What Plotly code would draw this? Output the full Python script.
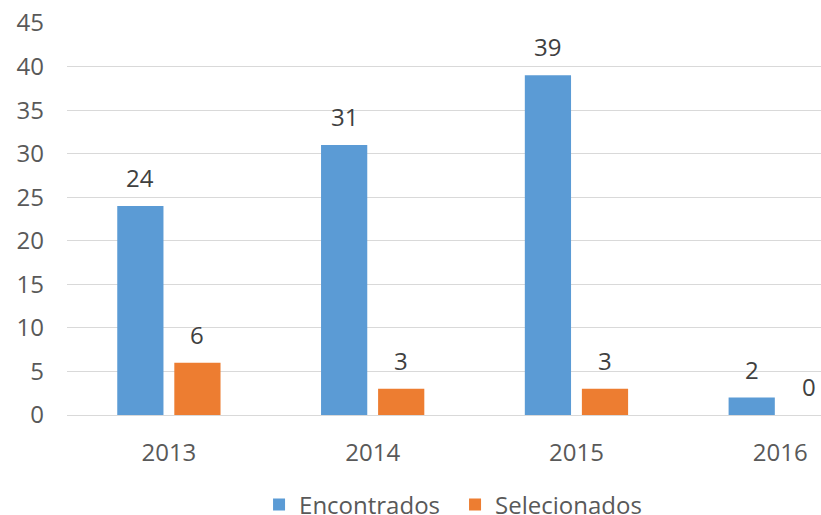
import plotly.graph_objects as go

years = ["2013", "2014", "2015", "2016"]
encontrados = [24, 31, 39, 2]
selecionados = [6, 3, 3, 0]

BLUE = "#5B9BD5"
ORANGE = "#ED7D31"
FONT = "Open Sans, Liberation Sans, sans-serif"
SIZE = 24

fig = go.Figure()
fig.add_trace(go.Bar(
    x=years, y=encontrados, name="Encontrados",
    marker=dict(color=BLUE, line=dict(width=0)), cliponaxis=False,
))
fig.add_trace(go.Bar(
    x=years, y=selecionados, name="Selecionados",
    marker=dict(color=ORANGE, line=dict(width=0)), cliponaxis=False,
))

# data labels, lifted a bit above the bars like the original
for series, shift in ((encontrados, -28.5), (selecionados, 28.5)):
    for i, val in enumerate(series):
        fig.add_annotation(
            x=i, y=val, xref="x", yref="y",
            xshift=shift, yshift=10, yanchor="bottom",
            text=str(val), showarrow=False,
            font=dict(size=SIZE, color="#404040", family=FONT),
        )

fig.update_layout(
    width=821, height=515,
    margin=dict(l=67, r=0, t=23, b=100, autoexpand=False),
    paper_bgcolor="white", plot_bgcolor="white",
    barmode="group", bargap=0.44, bargroupgap=0.19,
    font=dict(family=FONT, size=SIZE, color="#595959"),
    showlegend=True,
    legend=dict(
        orientation="h", x=0.2547, xanchor="left",
        y=-0.2296, yanchor="middle",
        font=dict(size=SIZE, color="#595959"),
        itemwidth=30, entrywidth=151, entrywidthmode="pixels",
    ),
    xaxis=dict(
        type="category", range=[-0.5, 3.2], automargin=False,
        showgrid=False, showline=False, zeroline=False,
        ticks="", ticklabelstandoff=21,
    ),
    yaxis=dict(
        range=[0, 45], dtick=5, automargin=False, ticklabeloverflow="allow",
        showgrid=True, gridcolor="#D9D9D9", gridwidth=1.2,
        zeroline=True, zerolinecolor="#D9D9D9", zerolinewidth=1.2,
        showline=False, ticks="", ticklabelstandoff=22,
    ),
)

# drop the default 8px page margin so the chart fills the window exactly
fig.write_html(
    "out.html",
    config={"displayModeBar": False},
    post_script="document.body.style.margin='0';document.body.style.overflow='hidden';",
)
